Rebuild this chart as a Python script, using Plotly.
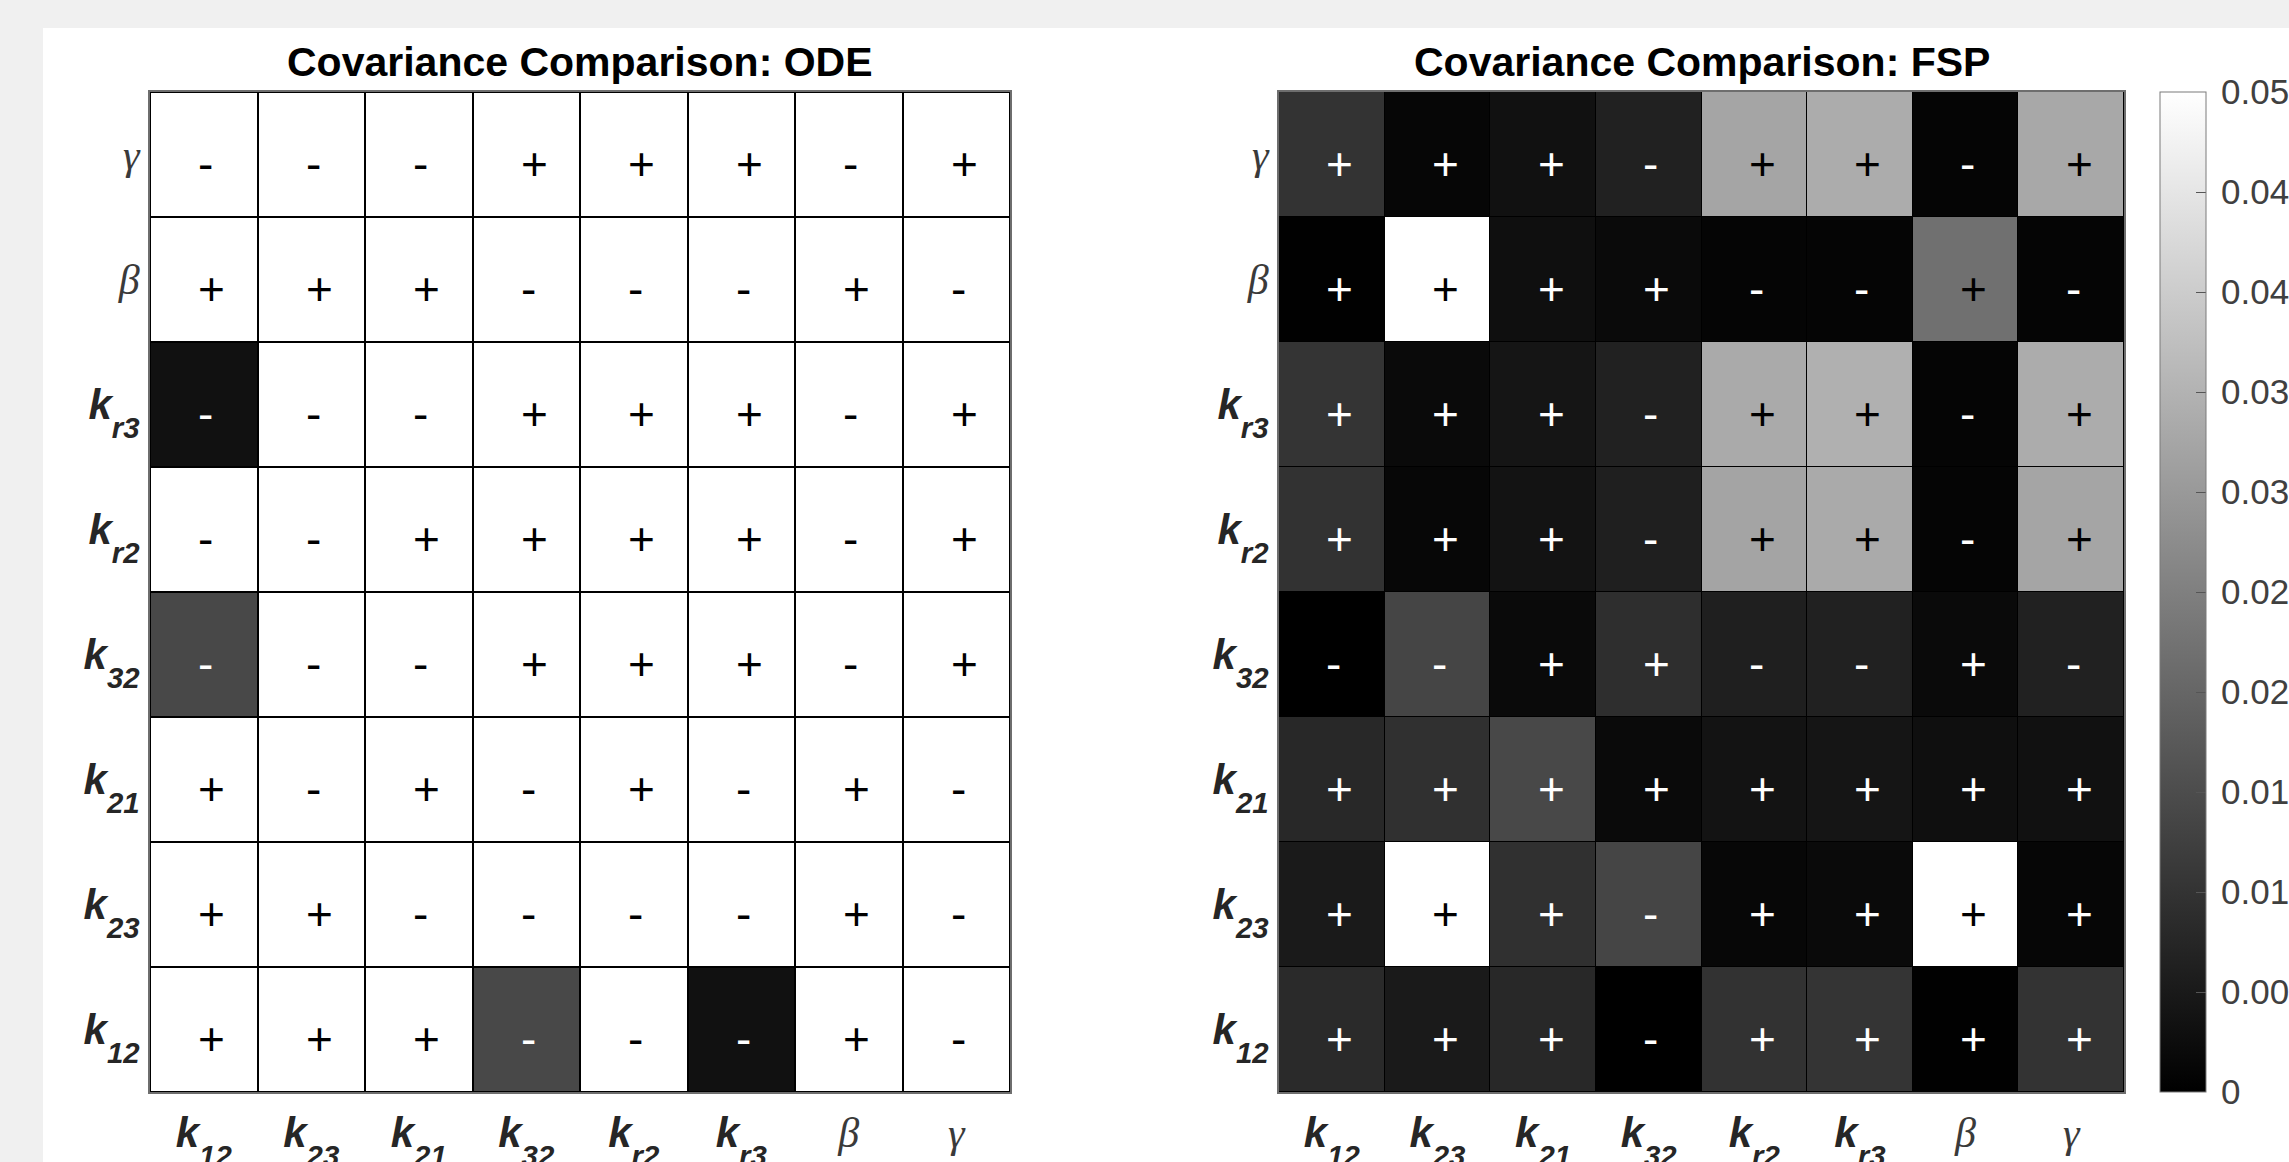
import plotly.graph_objects as go

W, H = 2289, 1162

# Parameter order, used for both axes (y categories run bottom -> top)
params = ["k12", "k23", "k21", "k32", "kr2", "kr3", "beta", "gamma"]


def k_label(sub):
    return (f"<b><i>k<sub><span style=\"baseline-shift:-10px\">{sub}</span>"
            f"</sub></i></b>")


def greek_label(ch):
    return f"<span style=\"font-family:'Liberation Serif';color:#3a3a3a\"><i>{ch}</i></span>"


tick_text = [k_label("12"), k_label("23"), k_label("21"), k_label("32"),
             k_label("r2"), k_label("r3"), greek_label("β"), greek_label("γ")]

# Covariance magnitudes, one row per parameter (same order as params)
ode_values = [
    [0.05, 0.05, 0.05, 0.0141, 0.05, 0.0033, 0.05, 0.05],   # k12
    [0.05, 0.05, 0.05, 0.05, 0.05, 0.05, 0.05, 0.05],       # k23
    [0.05, 0.05, 0.05, 0.05, 0.05, 0.05, 0.05, 0.05],       # k21
    [0.0141, 0.05, 0.05, 0.05, 0.05, 0.05, 0.05, 0.05],     # k32
    [0.05, 0.05, 0.05, 0.05, 0.05, 0.05, 0.05, 0.05],       # kr2
    [0.0033, 0.05, 0.05, 0.05, 0.05, 0.05, 0.05, 0.05],     # kr3
    [0.05, 0.05, 0.05, 0.05, 0.05, 0.05, 0.05, 0.05],       # beta
    [0.05, 0.05, 0.05, 0.05, 0.05, 0.05, 0.05, 0.05],       # gamma
]

fsp_values = [
    [0.0082, 0.0051, 0.0078, 0.0000, 0.0098, 0.0102, 0.0002, 0.0100],  # k12
    [0.0051, 0.0500, 0.0094, 0.0135, 0.0014, 0.0020, 0.0500, 0.0012],  # k23
    [0.0078, 0.0094, 0.0141, 0.0020, 0.0037, 0.0041, 0.0029, 0.0033],  # k21
    [0.0000, 0.0135, 0.0020, 0.0090, 0.0061, 0.0065, 0.0020, 0.0065],  # k32
    [0.0098, 0.0014, 0.0037, 0.0061, 0.0322, 0.0333, 0.0010, 0.0324],  # kr2
    [0.0102, 0.0020, 0.0041, 0.0065, 0.0333, 0.0345, 0.0010, 0.0337],  # kr3
    [0.0002, 0.0500, 0.0029, 0.0020, 0.0010, 0.0010, 0.0220, 0.0010],  # beta
    [0.0100, 0.0012, 0.0033, 0.0065, 0.0324, 0.0337, 0.0010, 0.0329],  # gamma
]

# Sign of each covariance entry
ode_signs = [
    "+ + + - - - + -".split(),  # k12
    "+ + - - - - + -".split(),  # k23
    "+ - + - + - + -".split(),  # k21
    "- - - + + + - +".split(),  # k32
    "- - + + + + - +".split(),  # kr2
    "- - - + + + - +".split(),  # kr3
    "+ + + - - - + -".split(),  # beta
    "- - - + + + - +".split(),  # gamma
]

fsp_signs = [
    "+ + + - + + + +".split(),  # k12
    "+ + + - + + + +".split(),  # k23
    "+ + + + + + + +".split(),  # k21
    "- - + + - - + -".split(),  # k32
    "+ + + - + + - +".split(),  # kr2
    "+ + + - + + - +".split(),  # kr3
    "+ + + + - - + -".split(),  # beta
    "+ + + - + + - +".split(),  # gamma
]

cbar_ticks = [0, 0.005, 0.01, 0.015, 0.02, 0.025, 0.03, 0.035, 0.04, 0.045, 0.05]
cbar_labels = ["0", "0.00", "0.01", "0.01", "0.02", "0.02", "0.03", "0.03", "0.04", "0.04", "0.05"]

CMIN, CMAX = 0.0, 0.05
gray = [[0, "#000000"], [1, "#ffffff"]]

# Plot-area placement in pixels
ode_left, ode_right = 150, 1010
fsp_left, fsp_right = 1279, 2124
top, bottom = 92, 1092

fig = go.Figure()
fig.add_trace(go.Heatmap(
    z=ode_values, x=params, y=params, colorscale=gray, zmin=CMIN, zmax=CMAX,
    xgap=2, ygap=2, showscale=False, xaxis="x", yaxis="y", hoverinfo="skip",
))
fig.add_trace(go.Heatmap(
    z=fsp_values, x=params, y=params, colorscale=gray, zmin=CMIN, zmax=CMAX,
    xgap=1, ygap=1, xaxis="x2", yaxis="y2", hoverinfo="skip",
    colorbar=dict(
        x=2160 / W, xanchor="left", xpad=0, ypad=0,
        y=1 - (top + bottom) / 2 / H, yanchor="middle",
        len=bottom - top, lenmode="pixels",
        thickness=46, thicknessmode="pixels",
        outlinecolor="#7a7a7a", outlinewidth=1,
        tickmode="array", tickvals=cbar_ticks,
        ticktext=["\u2009" + t for t in cbar_labels],
        ticks="inside", ticklen=10, tickcolor="#555555", tickwidth=1,
        tickfont=dict(family="Liberation Sans", size=35, color="#404040"),
    ),
))

# Sign labels inside the cells
annotations = []
for values, signs, xr, yr in ((ode_values, ode_signs, "x", "y"),
                              (fsp_values, fsp_signs, "x2", "y2")):
    for i, row in enumerate(values):
        for j, v in enumerate(row):
            s = signs[i][j]
            annotations.append(dict(
                x=params[j], y=params[i], xref=xr, yref=yr, text=s,
                showarrow=False, xanchor="center", yanchor="middle",
                xshift=8 if s == "+" else 2, yshift=-9,
                font=dict(family="Liberation Sans", size=46,
                          color="#ffffff" if v < 0.018 else "#000000"),
            ))

# Panel titles
for name, l, r in (("ODE", ode_left, ode_right), ("FSP", fsp_left, fsp_right)):
    annotations.append(dict(
        x=(l + r) / 2 / W, y=1 - 62.5 / H, xref="paper", yref="paper",
        text=f"<b>Covariance Comparison: {name}</b>", showarrow=False,
        xanchor="center", yanchor="middle",
        font=dict(family="Liberation Sans", size=41, color="#000000"),
    ))

axis_common = dict(
    type="category", tickmode="array", tickvals=params, ticktext=tick_text,
    ticks="", showgrid=False, zeroline=False, showline=True, automargin=False,
    linecolor="#6e6e6e", linewidth=2, mirror=True, fixedrange=True,
    tickfont=dict(family="Liberation Sans", size=42, color="#262626"),
)
ydom = [1 - bottom / H, 1 - top / H]

fig.update_layout(
    width=W, height=H, autosize=False,
    margin=dict(l=0, r=0, t=0, b=0, autoexpand=False),
    paper_bgcolor="#ffffff", plot_bgcolor="#000000",
    xaxis=dict(axis_common, domain=[ode_left / W, ode_right / W], anchor="y",
               ticklabelstandoff=3),
    yaxis=dict(axis_common, domain=ydom, anchor="x", ticklabelstandoff=0),
    xaxis2=dict(axis_common, domain=[fsp_left / W, fsp_right / W], anchor="y2",
                ticklabelstandoff=3),
    yaxis2=dict(axis_common, domain=ydom, anchor="x2", ticklabelstandoff=0),
    annotations=annotations,
    shapes=[
        dict(type="rect", xref="paper", yref="paper", x0=0, x1=43 / W, y0=0, y1=1,
             fillcolor="#f0f0f0", line=dict(width=0), layer="above"),
        dict(type="rect", xref="paper", yref="paper", x0=0, x1=1, y0=1 - 28 / H, y1=1,
             fillcolor="#f0f0f0", line=dict(width=0), layer="above"),
    ],
    showlegend=False,
)

fig.write_html("out.html", config={"displayModeBar": False, "responsive": False})
